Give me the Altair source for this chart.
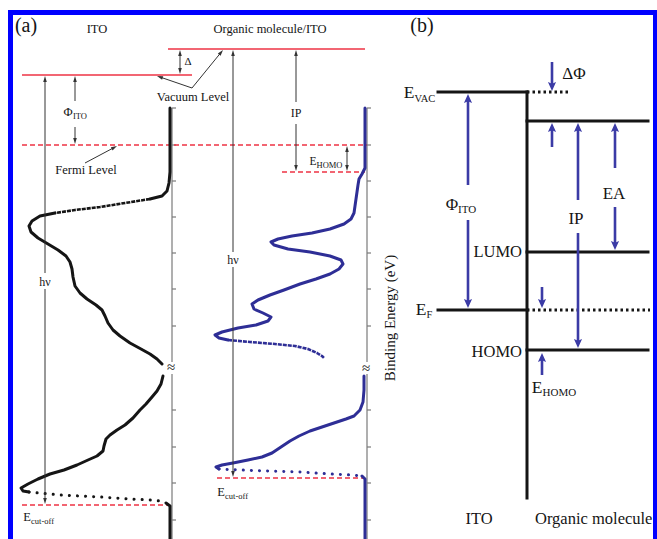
import math
import altair as alt
import pandas as pd

W, H = 657, 539
FONT = "Liberation Serif"

# ---------------- colours ----------------
INK = "#151515"
RED = "#ee3344"
GRAY = "#7a7a7a"
NAVY = "#2e2e96"      # organic spectrum
ARROW_BLUE = "#3b3ba6"
FRAME = "#0000ff"

# ---------------- frame ----------------
frame_segments = [  # x1, x2, y1, y2
    (10.5, 10.5, 12, 539),
    (8, 657, 12.5, 12.5),
    (655.5, 655.5, 12, 539),
]

# ---------------- panel (a): reference levels ----------------
red_solid = [  # x1, x2, y  (vacuum levels)
    (22, 192, 75),
    (168, 365, 49),
]
red_dashed = [  # x1, x2, y  (Fermi level, HOMO onset, cut-offs)
    (22, 367, 145),
    (282, 365, 172),
    (22, 170, 505),
    (217, 365, 478),
]

# energy axes of the spectra
axis_cols = [172, 367]
axis_spans = [(108, 362), (374, 539)]
tick_rows = [108, 145, 181, 217, 253, 289, 326, 410, 447, 483, 520]

# ---------------- spectra (x, y) ----------------
ito_solid_1 = [(170, 108), (170, 150), (170, 172), (169, 183), (167, 191), (162, 196), (150, 199)]
ito_dense_1 = [(150, 199), (125, 203), (100, 207), (75, 210), (55, 213)]
ito_solid_2 = [(55, 213), (40, 216), (32, 221), (29, 226), (31, 232), (38, 238), (48, 244), (58, 250),
               (66, 256), (70, 262), (72, 269), (73, 277), (75, 286), (80, 293), (87, 299), (96, 305),
               (102, 310), (105, 316), (108, 323), (113, 330), (120, 336), (130, 343), (141, 349),
               (150, 354), (157, 359), (162, 364)]
ito_solid_3 = [(163, 376), (161, 384), (157, 391), (152, 397), (146, 404), (140, 410), (133, 418),
               (125, 425), (117, 430), (110, 435), (106, 439), (104, 446), (103, 451), (97, 456),
               (88, 460), (77, 465), (64, 470), (50, 474), (38, 479), (28, 484), (21, 488), (23, 491),
               (29, 492)]
ito_dots = [(29, 492), (60, 495), (100, 497), (130, 499), (150, 500), (160, 501), (166, 503)]
ito_solid_4 = [(166, 503), (170, 506), (170, 539)]

org_solid_1 = [(365, 108), (365, 150), (365, 168), (362, 174), (359, 179), (358, 185), (357, 192),
               (356, 199), (355, 206), (354, 213), (351, 219), (344, 224), (330, 229), (312, 233),
               (292, 236), (278, 239), (271, 242), (274, 245), (288, 249), (310, 252), (330, 256),
               (341, 260), (343, 264), (339, 269), (330, 274), (316, 279), (300, 284), (284, 290),
               (270, 295), (258, 300), (252, 304), (254, 309), (263, 313), (271, 317), (268, 321),
               (256, 325), (238, 328), (222, 332), (215, 335), (219, 338), (228, 340)]
org_dense_1 = [(228, 340), (250, 342), (275, 344), (295, 346), (308, 349), (317, 353), (322, 356), (324, 358)]
org_solid_2 = [(364, 376), (364, 390), (363, 402), (360, 410), (354, 416), (346, 419), (334, 423),
               (322, 427), (310, 431), (299, 436), (290, 441), (281, 447), (272, 453), (262, 457),
               (248, 460), (233, 463), (222, 465), (216, 467), (219, 469)]
org_dots = [(219, 469), (240, 470), (270, 471), (300, 472), (330, 474), (352, 475), (362, 476)]
org_solid_3 = [(362, 476), (365, 479), (365, 539)]

# ---------------- arrows: tail x, tail y, tip x, tip y ----------------
thin_arrows = [
    (45, 273, 45, 76), (45, 289, 45, 504),        # h nu (ITO)
    (75, 101, 75, 76), (75, 127, 75, 144),        # Phi_ITO
    (180, 62, 180, 50), (180, 62, 180, 74),       # Delta
    (233, 252, 233, 50), (233, 267, 233, 477),    # h nu (organic)
    (296, 102, 296, 50), (296, 124, 296, 171),    # IP
    (347, 158, 347, 146), (347, 158, 347, 171),   # E_HOMO
    (192, 88, 157, 76), (192, 88, 223, 50),       # Vacuum Level pointers
    (85, 163, 117, 146),                          # Fermi Level pointer
]
blue_arrows = [
    (552, 62, 552, 91),                           # Delta Phi
    (468, 185, 468, 94), (468, 220, 468, 308),    # Phi_ITO
    (552, 147, 552, 123),
    (578, 200, 578, 123), (578, 233, 578, 348),   # IP
    (615, 168, 615, 123), (615, 207, 615, 250),   # EA
    (542, 287, 542, 308),
    (542, 375, 542, 353),
]

# ---------------- panel (b): levels ----------------
black_levels = [  # x1, x2, y1, y2
    (438, 527, 92, 92),     # E_VAC
    (527, 527, 92, 498),    # interface
    (527, 648, 121, 121),   # organic vacuum level
    (527, 648, 252, 252),   # LUMO
    (438, 527, 310, 310),   # E_F
    (527, 648, 350, 350),   # HOMO
]
dotted_levels = [
    (527, 570, 92, 92),
    (527, 650, 310, 310),
]

# ---------------- text: label, x, y, size, align, colour, angle ----------------
labels = [
    ("(a)", 26, 26, 20, "center", INK, 0),
    ("ITO", 97, 29, 12.5, "center", INK, 0),
    ("Organic molecule/ITO", 270, 29, 12.5, "center", INK, 0),
    ("Δ", 188, 62, 11, "center", INK, 0),
    ("Vacuum Level", 193, 97, 12.5, "center", INK, 0),
    ("Φ", 68, 112, 12.5, "center", INK, 0),
    ("ITO", 73, 116, 8.5, "left", INK, 0),
    ("IP", 296, 113, 12, "center", INK, 0),
    ("Fermi Level", 86, 170, 12.5, "center", INK, 0),
    ("E", 313, 162, 11.5, "center", INK, 0),
    ("HOMO", 316.5, 165, 8.5, "left", INK, 0),
    ("hν", 45, 282, 12, "center", INK, 0),
    ("hν", 233, 260, 12, "center", INK, 0),
    ("≈", 171, 367, 15, "center", INK, 0),
    ("≈", 366, 368, 15, "center", INK, 0),
    ("E", 27, 517, 12.5, "center", INK, 0),
    ("cut-off", 31, 521, 8.5, "left", INK, 0),
    ("E", 221, 492, 12.5, "center", INK, 0),
    ("cut-off", 225, 496, 8.5, "left", INK, 0),
    ("Binding Energy (eV)", 390, 318, 15, "center", INK, 270),
    ("(b)", 422, 26, 20, "center", INK, 0),
    ("E", 409, 93, 17.5, "center", INK, 0),
    ("VAC", 414.5, 98.5, 10.5, "left", INK, 0),
    ("ΔΦ", 574, 74, 17, "center", INK, 0),
    ("Φ", 452, 205, 17, "center", INK, 0),
    ("ITO", 458, 209.5, 11, "left", INK, 0),
    ("EA", 614, 194, 17, "center", INK, 0),
    ("IP", 576, 219, 17, "center", INK, 0),
    ("LUMO", 522, 252, 16.5, "right", INK, 0),
    ("E", 421, 310, 17.5, "center", INK, 0),
    ("F", 426.5, 315, 10.5, "left", INK, 0),
    ("HOMO", 522, 352, 16.5, "right", INK, 0),
    ("E", 537, 388, 17.5, "center", INK, 0),
    ("HOMO", 542.5, 392.5, 11, "left", INK, 0),
    ("ITO", 479, 519, 16.5, "center", INK, 0),
    ("Organic molecule", 535, 519, 16.5, "left", INK, 0),
]

# =====================================================================
xs = alt.Scale(domain=[0, W], nice=False, zero=False)
ys = alt.Scale(domain=[0, H], nice=False, zero=False, reverse=True)


def X(f="x"):
    return alt.X(f"{f}:Q", scale=xs, axis=None)


def Y(f="y"):
    return alt.Y(f"{f}:Q", scale=ys, axis=None)


def rule_layer(segs, color, width, dash=None, cap="butt"):
    df = pd.DataFrame(segs, columns=["x", "x2", "y", "y2"])
    kw = dict(color=color, strokeWidth=width, strokeCap=cap)
    if dash:
        kw["strokeDash"] = dash
    return alt.Chart(df).mark_rule(**kw).encode(
        x=X(), x2=alt.X2("x2:Q"), y=Y(), y2=alt.Y2("y2:Q"))


def line_layer(pts, color, width, dash=None, cap="round"):
    df = pd.DataFrame(pts, columns=["x", "y"])
    df["i"] = range(len(df))
    kw = dict(color=color, strokeWidth=width, strokeCap=cap, strokeJoin="round")
    if dash:
        kw["strokeDash"] = dash
    return alt.Chart(df).mark_line(**kw).encode(
        x=X(), y=Y(), order=alt.Order("i:Q"))


def arrow_layers(arrows, color, width, head_path, head_size, trim):
    shafts, heads = [], []
    for (x1, y1, x2, y2) in arrows:
        dx, dy = x2 - x1, y2 - y1
        L = math.hypot(dx, dy)
        ux, uy = dx / L, dy / L
        shafts.append((x1, x2 - ux * trim, y1, y2 - uy * trim))
        ang = math.degrees(math.atan2(dx, -dy)) % 360
        heads.append((x2, y2, ang))
    s = rule_layer(shafts, color, width)
    hdf = pd.DataFrame(heads, columns=["x", "y", "ang"])
    h = alt.Chart(hdf).mark_point(shape=head_path, filled=True, color=color, opacity=1,
                                  size=head_size, strokeWidth=0).encode(
        x=X(), y=Y(), angle=alt.Angle("ang:Q", scale=None))
    return [s, h]


def text_layer(rows, align):
    df = pd.DataFrame([r for r in rows if r[4] == align],
                      columns=["t", "x", "y", "fs", "al", "c", "ang"])
    return alt.Chart(df).mark_text(font=FONT, align=align, baseline="middle").encode(
        x=X(), y=Y(), text="t:N", size=alt.Size("fs:Q", scale=None),
        color=alt.Color("c:N", scale=None), angle=alt.Angle("ang:Q", scale=None))


layers = []
# frame
layers.append(rule_layer(frame_segments, FRAME, 5))

# gray energy axes with ticks
axis_segs = [(c, c, a, b) for c in axis_cols for (a, b) in axis_spans]
tick_segs = [(c, c + 4, r, r) for c in axis_cols for r in tick_rows]
layers.append(rule_layer(axis_segs, GRAY, 1.2))
layers.append(rule_layer(tick_segs, GRAY, 1.2))

# red reference levels
layers.append(rule_layer([(a, b, y, y) for (a, b, y) in red_solid], RED, 1.4))
layers.append(rule_layer([(a, b, y, y) for (a, b, y) in red_dashed], RED, 1.3, dash=[5, 3]))

# spectra
for seg in (ito_solid_1, ito_solid_2, ito_solid_3, ito_solid_4):
    layers.append(line_layer(seg, INK, 3))
layers.append(line_layer(ito_dense_1, INK, 2.6, dash=[4, 1], cap="butt"))
layers.append(line_layer(ito_dots, INK, 3, dash=[0.1, 8]))
for seg in (org_solid_1, org_solid_2, org_solid_3):
    layers.append(line_layer(seg, NAVY, 3))
layers.append(line_layer(org_dense_1, NAVY, 2.6, dash=[4, 1], cap="butt"))
layers.append(line_layer(org_dots, NAVY, 3, dash=[0.1, 8]))

# panel (b) levels
layers.append(rule_layer(black_levels, INK, 3, cap="square"))
layers.append(rule_layer(dotted_levels, INK, 3, dash=[2.5, 3]))

# arrows
layers += arrow_layers(thin_arrows, "#333333", 1, "M0,0 L0.3,1 L-0.3,1 Z", 144, 3)
layers += arrow_layers(blue_arrows, ARROW_BLUE, 2.6, "M0,0 L0.45,1 L0,0.8 L-0.45,1 Z", 324, 5)

# text
for al in ("center", "left", "right"):
    layers.append(text_layer(labels, al))

chart = alt.layer(*layers).properties(
    width=W, height=H, padding=0, autosize="none", background="white"
).configure_view(stroke=None)

chart.save("out.html", embed_options={"renderer": "svg", "actions": False})
